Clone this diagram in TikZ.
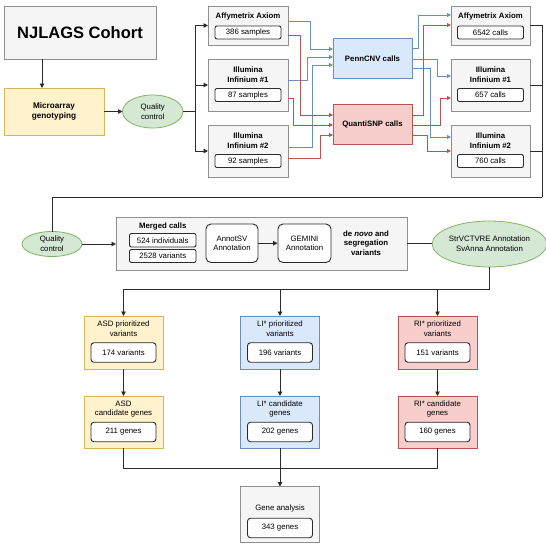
\documentclass[tikz,border=0pt]{standalone}
\usepackage{fontspec}
\setmainfont{Liberation Sans}
\usetikzlibrary{arrows.meta,shapes.geometric,calc}
\definecolor{gfill}{HTML}{F5F5F5}
\definecolor{gdraw}{HTML}{8F8F8F}
\definecolor{yfill}{HTML}{FFF2CC}
\definecolor{ydraw}{HTML}{D6B656}
\definecolor{grfill}{HTML}{D5E8D4}
\definecolor{grdraw}{HTML}{82B366}
\definecolor{bfill}{HTML}{DAE8FC}
\definecolor{bdraw}{HTML}{6C8EBF}
\definecolor{rfill}{HTML}{F8CECC}
\definecolor{rdraw}{HTML}{B85450}
\definecolor{ink}{HTML}{2B2B2B}
\begin{document}
\begin{tikzpicture}[x=1pt,y=-1pt,
  font=\fontsize{7.8}{9.6}\selectfont,
  base/.style={draw, line width=0.8pt, inner sep=0pt, outer sep=0pt},
  gbox/.style={base, fill=gfill, draw=gdraw},
  ybox/.style={base, fill=yfill, draw=ydraw},
  bbox/.style={base, fill=bfill, draw=bdraw},
  rbox/.style={base, fill=rfill, draw=rdraw},
  gell/.style={base, ellipse, fill=grfill, draw=grdraw, align=center},
  inbox/.style={draw=ink, fill=white, rounded corners=2pt, line width=0.9pt, inner sep=0pt},
  inbig/.style={inbox, rounded corners=3pt, minimum width=65pt, minimum height=19.5pt},
  insm/.style={inbox, minimum width=66pt, minimum height=13pt},
  txt/.style={inner sep=0pt, align=center},
  bf/.style={txt, font=\fontsize{7.8}{9.6}\selectfont\bfseries},
  line/.style={draw=ink, line width=0.9pt},
  arr/.style={line, -{Triangle[length=4.5pt,width=4.5pt]}},
  barr/.style={draw=bdraw, line width=0.9pt, -{Triangle[length=4pt,width=4pt]}},
  rarr/.style={draw=rdraw, line width=0.9pt, -{Triangle[length=4pt,width=4pt]}}
]
\fill[white] (0,0) rectangle (546,550);
\useasboundingbox (0,0) rectangle (546,550);

% top-left
\node[gbox, minimum width=152pt, minimum height=53pt, font=\fontsize{16.5}{19}\selectfont\bfseries] (njl) at (80,32.5) {NJLAGS Cohort};
\node[ybox, minimum width=100pt, minimum height=47pt, align=center, font=\fontsize{8.2}{10}\selectfont\bfseries] (micro) at (54,111.5) {Microarray\\genotyping};
\node[gell, minimum width=60.5pt, minimum height=33pt] (qc1) at (152.75,111.5) {Quality\\control};

% left array boxes
\node[gbox, minimum width=80pt, minimum height=39pt] (L1) at (248,25.5) {};
\node[bf] (L1t) at (248,16) {Affymetrix Axiom};
\node[insm] (L1i) at (248,32.5) {386 samples};
\node[gbox, minimum width=80pt, minimum height=52pt] (L2) at (248,85) {};
\node[bf] (L2t) at (248,75) {Illumina\\Infinium \#1};
\node[insm] (L2i) at (248,95) {87 samples};
\node[gbox, minimum width=80pt, minimum height=52pt] (L3) at (248,151) {};
\node[bf] (L3t) at (248,141) {Illumina\\Infinium \#2};
\node[insm] (L3i) at (248,161) {92 samples};

% callers
\node[bbox, minimum width=79pt, minimum height=40pt, font=\fontsize{7.8}{9.6}\selectfont\bfseries] (penn) at (372.5,58.5) {PennCNV calls};
\node[rbox, minimum width=79pt, minimum height=40pt, font=\fontsize{7.8}{9.6}\selectfont\bfseries] (quanti) at (372.5,124) {QuantiSNP calls};

% right boxes
\node[gbox, minimum width=79pt, minimum height=39pt] (R1) at (490.5,25.5) {};
\node[bf] (R1t) at (490.5,16) {Affymetrix Axiom};
\node[insm] (R1i) at (490.5,32.5) {6542 calls};
\node[gbox, minimum width=79pt, minimum height=52pt] (R2) at (490.5,85) {};
\node[bf] (R2t) at (490.5,75) {Illumina\\Infinium \#1};
\node[insm] (R2i) at (490.5,95) {657 calls};
\node[gbox, minimum width=79pt, minimum height=52pt] (R3) at (490.5,151) {};
\node[bf] (R3t) at (490.5,141) {Illumina\\Infinium \#2};
\node[insm] (R3i) at (490.5,161) {760 calls};

% middle row
\node[gell, minimum width=60pt, minimum height=25pt] (qc2) at (52,244) {Quality\\control};
\node[gbox, minimum width=291pt, minimum height=53pt] (merged) at (261.5,243.5) {};
\node[bf] (mt) at (162.75,226) {Merged calls};
\node[inbox, minimum width=66.5pt, minimum height=13.5pt] (ind) at (162.75,240.25) {524 individuals};
\node[inbox, minimum width=66.5pt, minimum height=13pt] (var) at (162.75,256) {2528 variants};
\node[inbox, rounded corners=5pt, minimum width=52pt, minimum height=38.5pt, align=center] (annot) at (232,243.25) {AnnotSV\\Annotation};
\node[inbox, rounded corners=5pt, minimum width=53pt, minimum height=38.5pt, align=center] (gemini) at (304.5,243.25) {GEMINI\\Annotation};
\node[bf] (denovo) at (366,243) {de \textit{novo} and\\segregation\\variants};
\node[gell, minimum width=105pt, minimum height=46pt] (str) at (489.5,244) {StrVCTVRE Annotation\\SvAnna Annotation};

% lower columns
\node[ybox, minimum width=79pt, minimum height=53pt] (asdp) at (123.5,342.5) {};
\node[txt] (asdpt) at (123.5,329) {ASD prioritized\\variants};
\node[inbig] (asdpi) at (123.5,352.5) {174 variants};
\node[bbox, minimum width=79pt, minimum height=53pt] (lip) at (280,342.5) {};
\node[txt] (lipt) at (280,329) {LI* prioritized\\variants};
\node[inbig] (lipi) at (280,352.5) {196 variants};
\node[rbox, minimum width=79pt, minimum height=53pt] (rip) at (437.5,342.5) {};
\node[txt] (ript) at (437.5,329) {RI* prioritized\\variants};
\node[inbig] (ripi) at (437.5,352.5) {151 variants};

\node[ybox, minimum width=79pt, minimum height=52pt] (asdc) at (123.5,422) {};
\node[txt] (asdct) at (123.5,409) {ASD\\candidate genes};
\node[inbig] (asdci) at (123.5,432) {211 genes};
\node[bbox, minimum width=79pt, minimum height=52pt] (lic) at (280,422) {};
\node[txt] (lict) at (280,409) {LI* candidate\\genes};
\node[inbig] (lici) at (280,432) {202 genes};
\node[rbox, minimum width=79pt, minimum height=52pt] (ric) at (437.5,422) {};
\node[txt] (rict) at (437.5,409) {RI* candidate\\genes};
\node[inbig] (rici) at (437.5,432) {160 genes};

\node[gbox, minimum width=79pt, minimum height=56pt] (gene) at (280,514.5) {};
\node[txt] (genet) at (280,508) {Gene analysis};
\node[inbig] (genei) at (280,528) {343 genes};

% black connectors top
\draw[arr] (njl.south -| 42,0) -- (micro.north -| 42,0);
\draw[arr] (micro.east) -- (qc1.west);
\coordinate (sp1) at (195,111.5);
\draw[line] (qc1.east) -- (sp1);
\draw[arr] (sp1) |- (L1.west);
\draw[arr] (sp1) |- (L2.west);
\draw[arr] (sp1) |- (L3.west);

% blue / red into callers
\draw[barr] (L1.east |- 0,21) -| (310,49) -- (penn.west |- 0,49);
\draw[barr] (L2.east |- 0,80) -| (307,57) -- (penn.west |- 0,57);
\draw[barr] (L3.east |- 0,147) -| (312,65) -- (penn.west |- 0,65);
\draw[rarr] (L1.east |- 0,35) -| (300,115) -- (quanti.west |- 0,115);
\draw[rarr] (L2.east |- 0,98) -| (293,125) -- (quanti.west |- 0,125);
\draw[rarr] (L3.east |- 0,158) -| (320,135) -- (quanti.west |- 0,135);

% callers to right boxes
\draw[barr] (penn.east |- 0,48) -| (418,15) -- (R1.west |- 0,15);
\draw[barr] (penn.east |- 0,59) -| (437,76) -- (R2.west |- 0,76);
\draw[barr] (penn.east |- 0,68) -| (430,137) -- (R3.west |- 0,137);
\draw[rarr] (quanti.east |- 0,115) -| (423,25) -- (R1.west |- 0,25);
\draw[rarr] (quanti.east |- 0,125) -| (440,98) -- (R2.west |- 0,98);
\draw[rarr] (quanti.east |- 0,135) -| (427,151) -- (R3.west |- 0,151);

% return line
\coordinate (ret) at (542,197);
\draw[line] (R1.east) -| (ret);
\draw[line] (R2.east) -- (ret |- R2.east);
\draw[line] (R3.east) -- (ret |- R3.east);
\draw[line] (ret) -| (qc2.north);

% middle row connectors
\draw[arr] (qc2.east) -- (merged.west |- qc2.east);
\draw[arr] (annot.east) -- (gemini.west);
\draw[line] (merged.east) -- (str.west |- merged.east);

% distribution
\coordinate (sp2) at (489.5,289);
\draw[line] (str.south) -- (sp2) -- (asdp.north |- sp2);
\draw[arr] (asdp.north |- sp2) -- (asdp.north);
\draw[arr] (lip.north |- sp2) -- (lip.north);
\draw[arr] (rip.north |- sp2) -- (rip.north);
\draw[arr] (asdp.south) -- (asdc.north);
\draw[arr] (lip.south) -- (lic.north);
\draw[arr] (rip.south) -- (ric.north);

% merge to gene analysis
\coordinate (jn) at (280,468);
\draw[line] (asdc.south) |- (jn);
\draw[line] (ric.south) |- (jn);
\draw[arr] (lic.south) -- (gene.north);
\end{tikzpicture}
\end{document}
